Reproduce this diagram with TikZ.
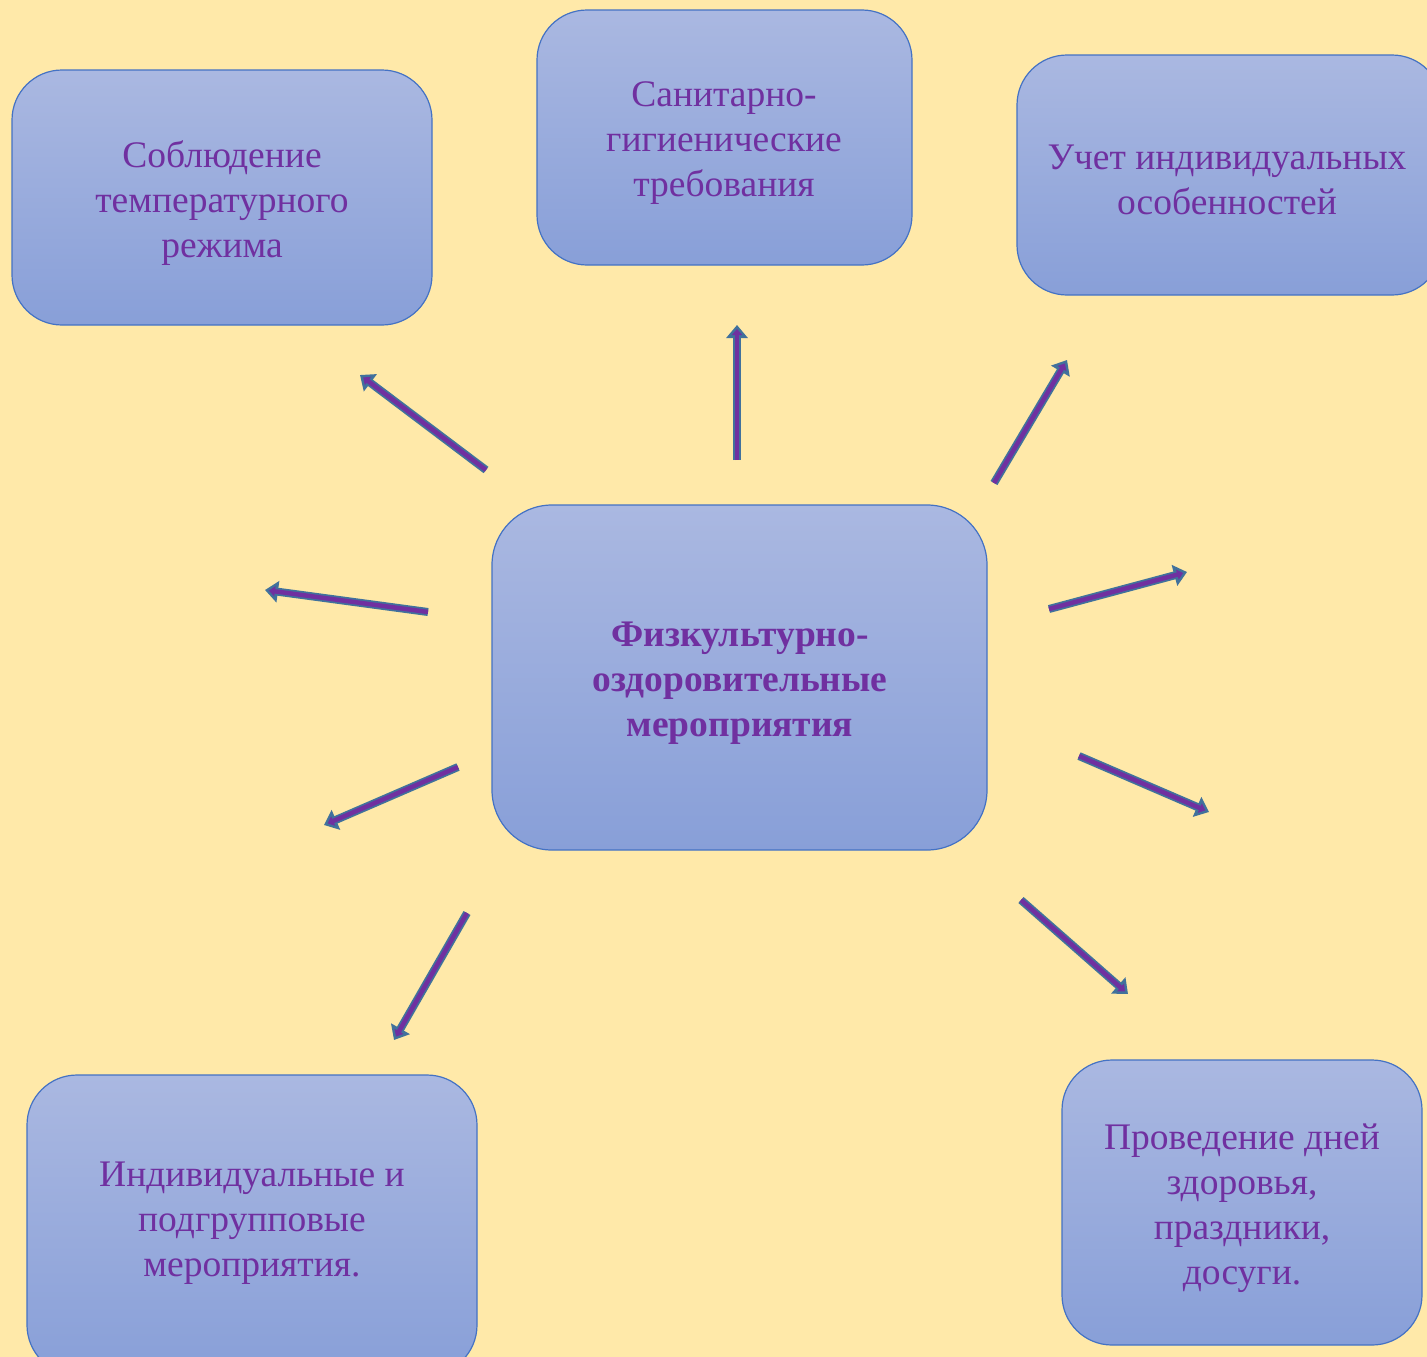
\documentclass[tikz,border=0pt]{standalone}
\usepackage{fontspec}
\setmainfont{Liberation Serif}
\usetikzlibrary{arrows.meta}
\definecolor{bgc}{HTML}{FFE9A9}
\definecolor{boxtop}{HTML}{AAB8E1}
\definecolor{boxbot}{HTML}{889FD8}
\definecolor{boxline}{HTML}{4472C4}
\definecolor{txt}{HTML}{7030A0}
\definecolor{arrline}{HTML}{41719C}
\definecolor{arrfill}{HTML}{7030A0}
\tikzset{
  box/.style={draw=boxline, line width=1.2pt, rounded corners=50pt, top color=boxtop, bottom color=boxbot},
  lbl/.style={text=txt, align=center, font=\fontsize{37.5}{45}\selectfont, inner sep=0pt},
  arrout/.style={draw=arrline, line width=8pt, -{Triangle[width=21pt,length=13pt]}},
  arrin/.style={draw=arrfill, line width=4.5pt, shorten >=4pt, -{Triangle[width=10pt,length=6pt]}}
}
\newcommand{\bigarrow}[2]{\draw[arrout] (#1) -- (#2); \draw[arrin] (#1) -- (#2);}
\begin{document}
\begin{tikzpicture}[x=1pt,y=-1pt]
\useasboundingbox (0,0) rectangle (1427,1357);
\fill[bgc] (0,0) rectangle (1427,1357);
% boxes
\path[box] (12,70) rectangle (432,325);
\node[lbl] (b1) at (222,203) {Соблюдение\\температурного\\режима};
\path[box] (537,10) rectangle (912,265);
\node[lbl] (b2) at (724,143) {Санитарно-\\гигиенические\\требования};
\path[box] (1017,55) rectangle (1442,295);
\node[lbl] (b3) at (1227,180) {Учет индивидуальных\\особенностей};
\path[box, rounded corners=60pt] (492,505) rectangle (987,850);
\node[lbl, font=\fontsize{37.5}{45}\selectfont\bfseries] (c) at (740,683) {Физкультурно-\\оздоровительные\\мероприятия};
\path[box] (27,1075) rectangle (477,1375);
\node[lbl] (b5) at (252,1223) {Индивидуальные и\\подгрупповые\\мероприятия.};
\path[box] (1062,1060) rectangle (1422,1345);
\node[lbl] (b6) at (1242,1208) {Проведение дней\\здоровья,\\праздники,\\досуги.};
% arrows
\coordinate (a1s) at (486,470); \coordinate (a1e) at (360,375);
\coordinate (a2s) at (737,460); \coordinate (a2e) at (737,325);
\coordinate (a3s) at (994,483); \coordinate (a3e) at (1067,360);
\coordinate (a4s) at (1049,609); \coordinate (a4e) at (1187,572);
\coordinate (a5s) at (428,612); \coordinate (a5e) at (265,590);
\coordinate (a6s) at (458,767); \coordinate (a6e) at (324,825);
\coordinate (a7s) at (467,913); \coordinate (a7e) at (394,1040);
\coordinate (a8s) at (1079,756); \coordinate (a8e) at (1209,812);
\coordinate (a9s) at (1021,900); \coordinate (a9e) at (1128,994);
\foreach \i in {1,...,9} { \bigarrow{a\i s}{a\i e} }
\end{tikzpicture}
\end{document}
